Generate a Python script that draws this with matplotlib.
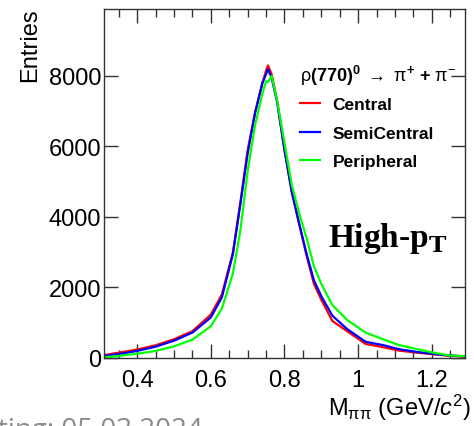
import numpy as np
import matplotlib.pyplot as plt
from matplotlib.ticker import MultipleLocator

# invariant mass points (GeV/c^2) and entries
mass = [0.31, 0.35, 0.40, 0.45, 0.50, 0.55, 0.60, 0.63, 0.66, 0.68, 0.70,
        0.72, 0.74, 0.75, 0.755, 0.765, 0.78, 0.80, 0.82, 0.84, 0.86, 0.88,
        0.90, 0.93, 0.97, 1.02, 1.07, 1.11, 1.16, 1.20, 1.25, 1.29]
central = [80, 150, 240, 360, 530, 760, 1230, 1800, 3000, 4400, 5900,
           6950, 7800, 8150, 8300, 8050, 7300, 5900, 4700, 3800, 2900, 2100,
           1650, 1050, 760, 400, 300, 210, 150, 110, 60, 40]
semicentral = [60, 110, 200, 320, 490, 720, 1150, 1720, 2950, 4350, 5800,
               6950, 7800, 8050, 8200, 7950, 7250, 5900, 4700, 3800, 2950, 2200,
               1750, 1200, 820, 460, 360, 250, 170, 120, 70, 45]
peripheral = [20, 60, 120, 200, 330, 520, 900, 1400, 2400, 3600, 5300,
              6600, 7500, 7850, 7830, 8000, 7300, 6100, 4900, 4100, 3400, 2600,
              2100, 1500, 1080, 720, 520, 370, 250, 160, 70, 50]

series = [("Central", central, "#ff0000"),
          ("SemiCentral", semicentral, "#0000ff"),
          ("Peripheral", peripheral, "#00ff00")]

plt.rcParams['font.family'] = ['Liberation Sans', 'DejaVu Sans']
plt.rcParams['mathtext.fontset'] = 'custom'
plt.rcParams['mathtext.rm'] = 'Liberation Sans'
plt.rcParams['mathtext.it'] = 'Liberation Sans:italic'
plt.rcParams['mathtext.bf'] = 'Liberation Sans:bold'

fig = plt.figure(figsize=(4.74, 4.27), dpi=100)
ax = fig.add_axes([0.2194, 0.1593, 0.7616, 0.8173])

for name, vals, col in series:
    ax.plot(mass, vals, color=col, lw=1.6, label=name)

ax.set_xlim(0.31, 1.29)
ax.set_ylim(0, 9900)
ax.xaxis.set_minor_locator(MultipleLocator(0.05))
ax.yaxis.set_major_locator(MultipleLocator(2000))
ax.set_xticks([0.4, 0.6, 0.8, 1.0, 1.2])
ax.set_xticklabels(["0.4", "0.6", "0.8", "1", "1.2"])
ax.tick_params(which='both', direction='in', top=True, right=True,
               labelsize=17, colors='#333333', labelcolor='black')
ax.tick_params(which='major', length=10, width=1)
ax.tick_params(which='minor', length=6, width=1)
ax.tick_params(axis='x', pad=8)
ax.tick_params(axis='y', pad=2)
for sp in ax.spines.values():
    sp.set_color('#333333')
    sp.set_linewidth(1)

fig.text(0.04, 0.98, "Entries", rotation=90, ha='left', va='top', fontsize=17)
fig.text(0.993, 0.025, r"M$_{\mathrm{ππ}}$ (GeV/$c^{2}$)", ha='right',
         va='baseline', fontsize=17)

leg = ax.legend(loc='upper left', bbox_to_anchor=(0.525, 0.865), frameon=False,
                prop={'weight': 'bold', 'size': 12.5}, handlelength=1.1,
                handletextpad=0.75, labelspacing=0.78, borderaxespad=0,
                title=r"ρ$\mathbf{(770)}^{\mathbf{0}}$ $\rightarrow$ "
                      r"π$^{\mathbf{+}}$ $\mathbf{+}$ π$^{-}$",
                title_fontproperties={'size': 13})
leg._legend_box.align = 'left'
leg._legend_box.sep = 7

ax.text(0.785, 0.345, r"High-p$_{\mathbf{T}}$", transform=ax.transAxes,
        ha='center', va='center', fontsize=24, fontweight='bold',
        family='Liberation Serif', math_fontfamily='dejavuserif')

fig.text(-0.005, -0.025, "ting: 05.03.2024", ha='left', va='baseline',
         fontsize=20, color='#8c8c8c', family='Open Sans')

fig.savefig("out.png", dpi=100)
